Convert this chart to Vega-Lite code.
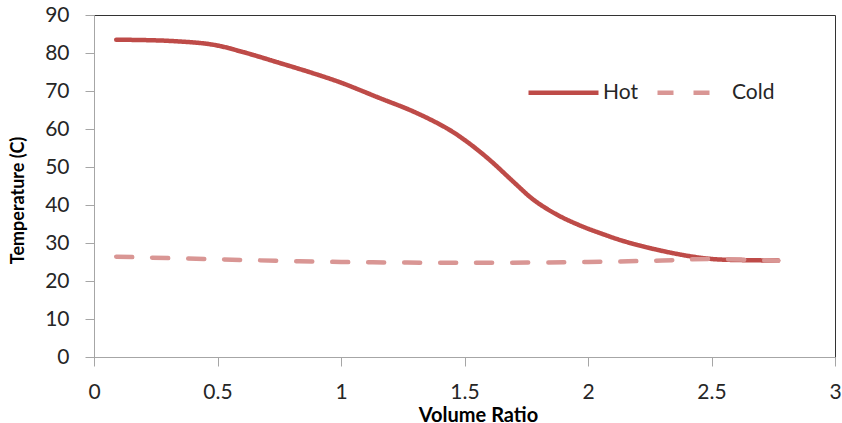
{
  "$schema": "https://vega.github.io/schema/vega-lite/v6.json",
  "width": 741,
  "height": 342,
  "autosize": {"type": "none"},
  "padding": {"left": 94, "top": 15, "right": 7, "bottom": 66},
  "background": "white",
  "config": {
    "view": {"stroke": "#333333", "strokeWidth": 1},
    "font": "Lato"
  },
  "data": {
    "values": [
      {"ratio": 0.09, "temp": 83.5, "series": "Hot"},
      {"ratio": 0.3, "temp": 83.2, "series": "Hot"},
      {"ratio": 0.48, "temp": 82.2, "series": "Hot"},
      {"ratio": 0.6, "temp": 80.3, "series": "Hot"},
      {"ratio": 0.75, "temp": 77.4, "series": "Hot"},
      {"ratio": 0.9, "temp": 74.4, "series": "Hot"},
      {"ratio": 1.0, "temp": 72.2, "series": "Hot"},
      {"ratio": 1.158, "temp": 68.1, "series": "Hot"},
      {"ratio": 1.293, "temp": 64.6, "series": "Hot"},
      {"ratio": 1.428, "temp": 60.2, "series": "Hot"},
      {"ratio": 1.509, "temp": 56.7, "series": "Hot"},
      {"ratio": 1.603, "temp": 51.8, "series": "Hot"},
      {"ratio": 1.698, "temp": 46.1, "series": "Hot"},
      {"ratio": 1.779, "temp": 41.4, "series": "Hot"},
      {"ratio": 1.873, "temp": 37.5, "series": "Hot"},
      {"ratio": 1.968, "temp": 34.6, "series": "Hot"},
      {"ratio": 2.049, "temp": 32.6, "series": "Hot"},
      {"ratio": 2.17, "temp": 30.0, "series": "Hot"},
      {"ratio": 2.37, "temp": 27.0, "series": "Hot"},
      {"ratio": 2.5, "temp": 25.8, "series": "Hot"},
      {"ratio": 2.62, "temp": 25.5, "series": "Hot"},
      {"ratio": 2.77, "temp": 25.4, "series": "Hot"},
      {"ratio": 0.09, "temp": 26.4, "series": "Cold"},
      {"ratio": 0.5, "temp": 25.7, "series": "Cold"},
      {"ratio": 1.0, "temp": 25.0, "series": "Cold"},
      {"ratio": 1.5, "temp": 24.8, "series": "Cold"},
      {"ratio": 2.0, "temp": 25.0, "series": "Cold"},
      {"ratio": 2.3, "temp": 25.4, "series": "Cold"},
      {"ratio": 2.5, "temp": 25.8, "series": "Cold"},
      {"ratio": 2.77, "temp": 25.3, "series": "Cold"}
    ]
  },
  "mark": {"type": "line", "interpolate": "catmull-rom", "strokeWidth": 4.5, "strokeCap": "round"},
  "encoding": {
    "x": {
      "field": "ratio", "type": "quantitative",
      "scale": {"domain": [0, 3], "nice": false, "zero": false},
      "axis": {
        "title": "Volume Ratio", "values": [0, 0.5, 1, 1.5, 2, 2.5, 3], "format": "~g",
        "grid": false, "domainColor": "#A6A6A6", "tickColor": "#A6A6A6", "tickSize": 9,
        "labelFont": "Lato", "labelFontSize": 21, "labelColor": "#262626", "labelPadding": 15,
        "labelFlush": false, "labelOverlap": false,
        "titleFont": "Lato", "titleFontSize": 20, "titleFontWeight": "bold", "titleColor": "#000000",
        "titleX": 384, "titleY": 48, "titleBaseline": "top", "titleAlign": "center"
      }
    },
    "y": {
      "field": "temp", "type": "quantitative",
      "scale": {"domain": [0, 90], "nice": false},
      "axis": {
        "title": "Temperature (C)", "values": [0, 10, 20, 30, 40, 50, 60, 70, 80, 90],
        "grid": false, "domainColor": "#A6A6A6", "tickColor": "#A6A6A6", "tickSize": 9,
        "labelFont": "Lato", "labelFontSize": 21, "labelColor": "#262626", "labelPadding": 16,
        "labelFlush": false, "labelOverlap": false,
        "titleFont": "Lato", "titleFontSize": 18, "titleFontWeight": "bold", "titleColor": "#000000",
        "titleX": -76, "titleY": 185, "titleAngle": -90, "titleAlign": "center", "titleBaseline": "middle"
      }
    },
    "color": {
      "field": "series", "type": "nominal",
      "scale": {"domain": ["Hot", "Cold"], "range": ["#BE4B48", "#D99694"]},
      "legend": {
        "title": null, "orient": "none", "direction": "horizontal",
        "legendX": 432, "legendY": 40,
        "symbolType": "stroke", "symbolSize": 4900, "symbolStrokeWidth": 4.5,
        "labelFont": "Lato", "labelFontSize": 21, "labelColor": "#262626",
        "labelOffset": 2, "columnPadding": 10
      }
    },
    "strokeDash": {
      "field": "series", "type": "nominal",
      "scale": {"domain": ["Hot", "Cold"], "range": [[1, 0], [16, 20]]},
      "legend": null
    }
  }
}
